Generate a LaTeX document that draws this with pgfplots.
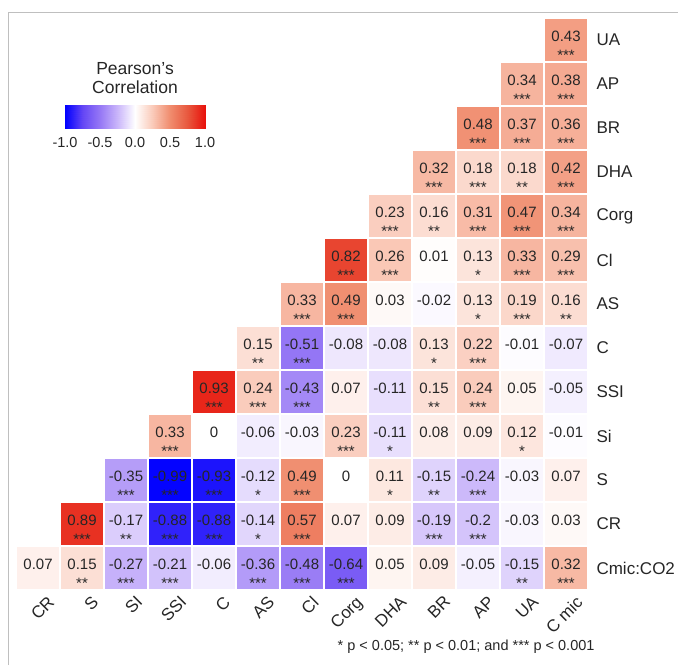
\documentclass[border=0pt]{standalone}
\usepackage{pgfplots}
\pgfplotsset{compat=1.18}
\usepackage{pgfplotstable}
\usepackage{fontspec}
\setmainfont{Liberation Sans}

\pgfplotsset{colormap={corr}{rgb255=(0,0,255) rgb255=(100,70,245) rgb255=(150,120,245) rgb255=(202,182,250) rgb255=(255,255,255) rgb255=(250,202,185) rgb255=(240,140,110) rgb255=(232,88,62) rgb255=(232,18,12)}}

\pgfplotstableread{
x y v st
12 12 0.43 ***
11 11 0.34 ***
12 11 0.38 ***
10 10 0.48 ***
11 10 0.37 ***
12 10 0.36 ***
9 9 0.32 ***
10 9 0.18 ***
11 9 0.18 **
12 9 0.42 ***
8 8 0.23 ***
9 8 0.16 **
10 8 0.31 ***
11 8 0.47 ***
12 8 0.34 ***
7 7 0.82 ***
8 7 0.26 ***
9 7 0.01 {}
10 7 0.13 *
11 7 0.33 ***
12 7 0.29 ***
6 6 0.33 ***
7 6 0.49 ***
8 6 0.03 {}
9 6 -0.02 {}
10 6 0.13 *
11 6 0.19 ***
12 6 0.16 **
5 5 0.15 **
6 5 -0.51 ***
7 5 -0.08 {}
8 5 -0.08 {}
9 5 0.13 *
10 5 0.22 ***
11 5 -0.01 {}
12 5 -0.07 {}
4 4 0.93 ***
5 4 0.24 ***
6 4 -0.43 ***
7 4 0.07 {}
8 4 -0.11 {}
9 4 0.15 **
10 4 0.24 ***
11 4 0.05 {}
12 4 -0.05 {}
3 3 0.33 ***
4 3 0 {}
5 3 -0.06 {}
6 3 -0.03 {}
7 3 0.23 ***
8 3 -0.11 *
9 3 0.08 {}
10 3 0.09 {}
11 3 0.12 *
12 3 -0.01 {}
2 2 -0.35 ***
3 2 -0.99 ***
4 2 -0.93 ***
5 2 -0.12 *
6 2 0.49 ***
7 2 0 {}
8 2 0.11 *
9 2 -0.15 **
10 2 -0.24 ***
11 2 -0.03 {}
12 2 0.07 {}
1 1 0.89 ***
2 1 -0.17 **
3 1 -0.88 ***
4 1 -0.88 ***
5 1 -0.14 *
6 1 0.57 ***
7 1 0.07 {}
8 1 0.09 {}
9 1 -0.19 ***
10 1 -0.2 ***
11 1 -0.03 {}
12 1 0.03 {}
0 0 0.07 {}
1 0 0.15 **
2 0 -0.27 ***
3 0 -0.21 ***
4 0 -0.06 {}
5 0 -0.36 ***
6 0 -0.48 ***
7 0 -0.64 ***
8 0 0.05 {}
9 0 0.09 {}
10 0 -0.05 {}
11 0 -0.15 **
12 0 0.32 ***
}\corrdata

\begin{document}
\begin{tikzpicture}
\begin{axis}[
  name=main,
  x=44pt, y=44pt,
  xmin=-0.5, xmax=12.5, ymin=-0.5, ymax=12.5,
  axis line style={draw=none},
  tick style={draw=none},
  major tick length=0pt,
  xtick={0,...,12}, ytick={0,...,12},
  xticklabels={CR,S,SI,SSI,C,AS,Cl,Corg,DHA,BR,AP,UA,C mic},
  yticklabels={Cmic:CO2,CR,S,Si,SSI,C,AS,Cl,Corg,DHA,BR,AP,UA},
  yticklabel pos=right,
  yticklabel style={anchor=west, xshift=5pt, font=\fontsize{17}{19}\selectfont, text=black!85},
  xticklabel style={xshift=9pt, rotate=45, anchor=north east, font=\fontsize{17}{19}\selectfont, text=black!85},
  colormap name=corr,
  point meta min=-1, point meta max=1,
  clip=false,
]
\addplot[scatter, only marks, mark=square*, mark size=22pt, line width=1.2pt,
  scatter/use mapped color={draw=white, fill=mapped color},
  point meta=explicit] table[x=x, y=y, meta=v] {\corrdata};
\addplot[only marks, mark=none, point meta=explicit symbolic,
  nodes near coords, nodes near coords align=center,
  every node near coord/.append style={anchor=center, yshift=3.5pt, font=\fontsize{15}{17}\selectfont, text=black!85}]
  table[x=x, y=y, meta=v] {\corrdata};
\addplot[only marks, mark=none, point meta=explicit symbolic,
  nodes near coords, nodes near coords align=center,
  every node near coord/.append style={anchor=center, yshift=-15pt, font=\fontsize{15}{17}\selectfont, text=black!85}]
  table[x=x, y=y, meta=st] {\corrdata};
\node[anchor=east, font=\fontsize{14.5}{16}\selectfont, text=black!85] at (axis cs:12.727,-1.80) {* p < 0.05; ** p < 0.01; and *** p < 0.001};
\draw[black!25, line width=1pt] (axis cs:-0.682,-2.205) -- (axis cs:-0.682,12.636) -- (axis cs:14.545,12.636);
\coordinate (BL) at (axis cs:-0.864,-2.205);
\coordinate (TR) at (axis cs:14.545,12.909);
\coordinate (CB) at (axis cs:2.205,10.261);
\end{axis}
\begin{axis}[
  at={(CB)}, anchor=center,
  scale only axis, width=140pt, height=23pt,
  xmin=-1, xmax=1, ymin=0, ymax=1,
  enlargelimits=false,
  colormap name=corr,
  point meta min=-1, point meta max=1,
  axis line style={draw=none},
  ytick=\empty,
  xtick={-1,-0.5,0,0.5,1},
  xticklabels={-1.0,-0.5,0.0,0.5,1.0},
  tick style={draw=none},
  major tick length=0pt,
  xticklabel style={font=\fontsize{14.5}{16}\selectfont, text=black!85, yshift=-6pt},
  title={Pearson's\\Correlation},
  title style={align=center, font=\fontsize{17.5}{18.5}\selectfont, text=black!85, yshift=2pt},
]
\addplot[surf, shader=interp, mesh/rows=2, point meta=x] coordinates {
(-1,0) (-0.5,0) (0,0) (0.5,0) (1,0)

(-1,1) (-0.5,1) (0,1) (0.5,1) (1,1)
};
\end{axis}
\pgfresetboundingbox
\path[use as bounding box] (BL) rectangle (TR);
\end{tikzpicture}
\end{document}
